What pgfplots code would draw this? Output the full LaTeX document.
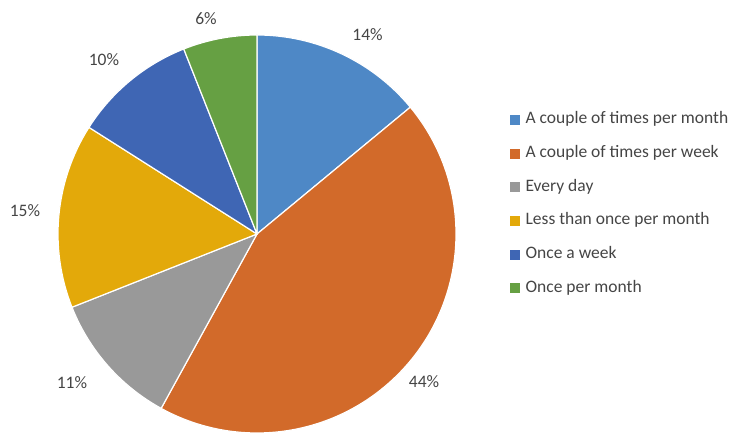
\documentclass[border=0pt]{standalone}
\usepackage{pgfplots}
\usepackage{pgfplotstable}
\pgfplotsset{compat=1.18}
\usepackage{fontspec}
\setmainfont{Carlito}
\definecolor{cA}{HTML}{4E88C6}
\definecolor{cB}{HTML}{D26A2A}
\definecolor{cC}{HTML}{999999}
\definecolor{cD}{HTML}{E3A90A}
\definecolor{cE}{HTML}{3F66B4}
\definecolor{cF}{HTML}{66A043}
\definecolor{txt}{HTML}{454545}
\pgfplotstableread[col sep=comma]{
label,value,color
A couple of times per month,14,cA
A couple of times per week,44,cB
Every day,11,cC
Less than once per month,15,cD
Once a week,10,cE
Once per month,6,cF
}\piedata
\begin{document}
\begin{tikzpicture}
\useasboundingbox (0,0) rectangle (744pt,435pt);
\begin{axis}[
  x=1pt, y=1pt, xmin=0, xmax=744, ymin=0, ymax=435,
  hide axis, clip=false, anchor=south west, at={(0,0)},
  legend image code/.code={\fill[#1] (0pt,-4.5pt) rectangle (9pt,4.5pt);},
  legend style={draw=none, fill=none, at={(510/744,323.5/435)}, anchor=north west,
    inner sep=0pt, row sep=17.7pt, column sep=6pt, text=txt,
    font=\fontsize{17.5pt}{21pt}\selectfont,
    nodes={inner sep=0pt, text height=12pt, text depth=4pt}},
  legend cell align=left,
]
\def\cum{90}
\pgfplotsforeachungrouped \i in {0,...,5}{
  \pgfplotstablegetelem{\i}{value}\of\piedata \let\v\pgfplotsretval
  \pgfplotstablegetelem{\i}{color}\of\piedata \let\c\pgfplotsretval
  \pgfmathsetmacro\endang{\cum-3.6*\v}
  \edef\temp{\noexpand\fill[\c, draw=white, line width=1.2pt, line join=round]
     (axis cs:257,201) -- ++(\cum:199pt) arc[start angle=\cum, end angle=\endang, radius=199pt] -- cycle;}
  \temp
  \global\let\cum\endang
}
\addlegendimage{cA}\addlegendentry{A couple of times per month}
\addlegendimage{cB}\addlegendentry{A couple of times per week}
\addlegendimage{cC}\addlegendentry{Every day}
\addlegendimage{cD}\addlegendentry{Less than once per month}
\addlegendimage{cE}\addlegendentry{Once a week}
\addlegendimage{cF}\addlegendentry{Once per month}
\begin{scope}[every node/.style={text=txt, font=\fontsize{17.5pt}{21pt}\selectfont}]
\node at (axis cs:367.5,400) {14\%};
\node at (axis cs:424,53) {44\%};
\node at (axis cs:72,52) {11\%};
\node at (axis cs:25,224) {15\%};
\node at (axis cs:104,375) {10\%};
\node at (axis cs:206,416) {6\%};
\end{scope}
\end{axis}
\end{tikzpicture}
\end{document}
